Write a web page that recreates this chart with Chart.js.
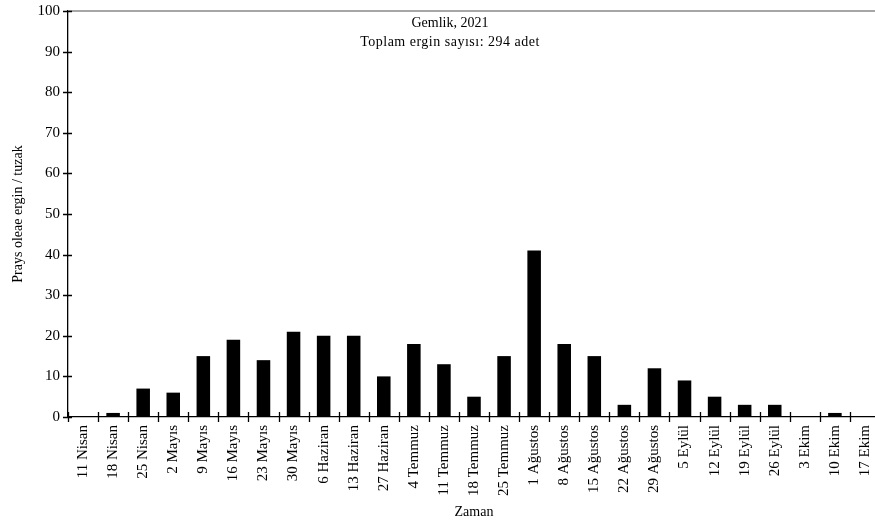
<!DOCTYPE html>
<html>
<head>
<meta charset="utf-8">
<script src="https://cdn.jsdelivr.net/npm/chart.js@4"></script>
<style>
  html, body { margin: 0; padding: 0; background: #fff; overflow: hidden; }
  #wrap { width: 885px; height: 527px; }
</style>
</head>
<body>
<div id="wrap"><canvas id="c" width="885" height="527"></canvas></div>
<script>
// Weekly trap catches of Prays oleae adults, Gemlik 2021
const categories = ['11 Nisan','18 Nisan','25 Nisan','2 Mayıs','9 Mayıs','16 Mayıs','23 Mayıs','30 Mayıs',
  '6 Haziran','13 Haziran','27 Haziran','4 Temmuz','11 Temmuz','18 Temmuz','25 Temmuz',
  '1 Ağustos','8 Ağustos','15 Ağustos','22 Ağustos','29 Ağustos',
  '5 Eylül','12 Eylül','19 Eylül','26 Eylül','3 Ekim','10 Ekim','17 Ekim'];
const adultsPerTrap = [0, 1, 7, 6, 15, 19, 14, 21, 20, 20, 10, 18, 13, 5, 15, 41, 18, 15, 3, 12, 9, 5, 3, 3, 0, 1, 0];
const yTicks = [0, 10, 20, 30, 40, 50, 60, 70, 80, 90, 100];
const titleLines = ['Gemlik, 2021', 'Toplam ergin sayısı: 294 adet'];

const FONT = 'Liberation Serif, Times New Roman, serif';

// Frame line, crossing tick marks and the in-plot caption
const decor = {
  id: 'decor',
  afterDraw(chart) {
    const { ctx, chartArea: a, scales: { x, y } } = chart;
    ctx.save();
    ctx.strokeStyle = '#a6a6a6';
    ctx.lineWidth = 2;
    ctx.beginPath();
    ctx.moveTo(a.left, a.top);
    ctx.lineTo(chart.width, a.top);
    ctx.stroke();

    ctx.strokeStyle = '#000';
    ctx.lineWidth = 1.3;
    ctx.beginPath();
    yTicks.forEach(v => {
      const py = Math.round(y.getPixelForValue(v)) + 0.5;
      ctx.moveTo(a.left - 5, py);
      ctx.lineTo(a.left + 4, py);
    });
    for (let i = 0; i <= categories.length; i++) {
      const px = Math.round(x.getPixelForValue(i - 0.5)) + 0.5;
      ctx.moveTo(px, a.bottom - 5);
      ctx.lineTo(px, a.bottom + 5);
    }
    ctx.stroke();

    ctx.fillStyle = '#000';
    ctx.font = '14px ' + FONT;
    ctx.textAlign = 'center';
    ctx.textBaseline = 'middle';
    ctx.fillText(titleLines[0], 450, a.top + 12);
    ctx.letterSpacing = '0.5px';
    ctx.fillText(titleLines[1], 450, a.top + 31);
    ctx.restore();
  }
};

new Chart(document.getElementById('c'), {
  type: 'bar',
  data: {
    labels: categories,
    datasets: [{
      data: adultsPerTrap,
      backgroundColor: '#000',
      borderWidth: 0,
      barPercentage: 0.45,
      categoryPercentage: 1.0
    }]
  },
  options: {
    responsive: false,
    animation: false,
    layout: { padding: { top: 11, right: 5, left: 0, bottom: 0 } },
    plugins: { legend: { display: false }, tooltip: { enabled: false }, title: { display: false } },
    scales: {
      x: {
        grid: { display: false, drawTicks: false },
        border: { display: true, color: '#000', width: 1.3 },
        ticks: {
          color: '#000',
          font: { family: FONT, size: 15 },
          minRotation: 90, maxRotation: 90,
          padding: 8,
          autoSkip: false
        },
        title: {
          display: true, text: 'Zaman', color: '#000',
          font: { family: FONT, size: 14 },
          padding: { top: 6, bottom: 6 }
        },
        afterFit(scale) {
          scale.height = 110;
          scale.paddingLeft = 0;
          scale.paddingRight = 0;
        }
      },
      y: {
        min: 0, max: 100,
        grid: { display: false, drawTicks: false },
        border: { display: true, color: '#000', width: 1.3 },
        afterBuildTicks(scale) { scale.ticks = yTicks.map(v => ({ value: v })); },
        ticks: {
          color: '#000',
          font: { family: FONT, size: 15 },
          padding: 8
        },
        title: {
          display: true, text: 'Prays oleae ergin / tuzak', color: '#000',
          font: { family: FONT, size: 14 },
          padding: { top: 10, bottom: 10 }
        },
        afterFit(scale) {
          scale.width = 68;
          scale.paddingTop = 0;
          scale.paddingBottom = 0;
        }
      }
    }
  },
  plugins: [decor]
});
</script>
</body>
</html>
